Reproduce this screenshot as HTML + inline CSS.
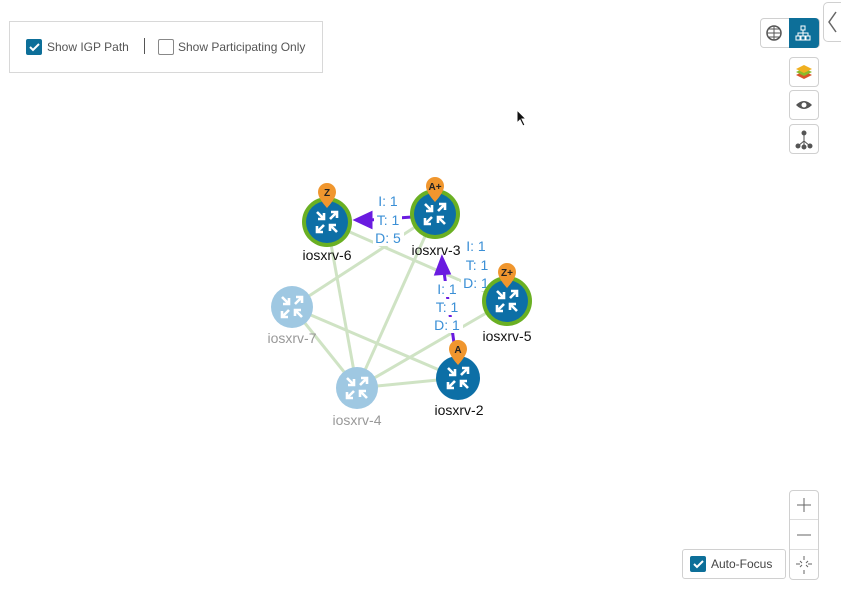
<!DOCTYPE html>
<html><head><meta charset="utf-8"><style>
body{margin:0;width:841px;height:598px;background:#fff;font-family:"Liberation Sans",sans-serif;overflow:hidden;position:relative}
.box{position:absolute;left:9px;top:21px;width:312px;height:50px;border:1px solid #d8d8d8;background:#fff}
.cb{position:absolute;width:14px;height:14px;border:1px solid #888;border-radius:2px;background:#fff}
.cb.on{background:#0d6f99;border-color:#0d6f99}
.lbl{position:absolute;font-size:12px;color:#555}
.btn{position:absolute;width:28px;height:28px;border:1px solid #d0d0d0;border-radius:4px;background:#fff}
</style></head><body>
<div class="box">
<div class="cb on" style="left:16px;top:17px"><svg width="14" height="14"><path d="M3 7l3 3 6-6" stroke="#fff" stroke-width="2" fill="none"/></svg></div>
<div class="lbl" style="left:37px;top:18px">Show IGP Path</div>
<div style="position:absolute;left:134px;top:16px;width:1px;height:16px;background:#555"></div>
<div class="cb" style="left:148px;top:17px"></div>
<div class="lbl" style="left:168px;top:18px">Show Participating Only</div>
</div>
<div style="position:absolute;left:760px;top:18px;width:58px;height:28px;border:1px solid #d0d0d0;border-radius:4px;background:#fff"></div>
<div style="position:absolute;left:789px;top:18px;width:30px;height:30px;background:#0d6f99;border-radius:0 4px 4px 0"></div>
<svg style="position:absolute;left:766px;top:25px" width="16" height="16"><circle cx="8" cy="8" r="7" fill="none" stroke="#555" stroke-width="1.5"/><path d="M1 8h14M8 1v14M3 4h10M3 12h10" stroke="#555"/></svg>
<svg style="position:absolute;left:795px;top:25px" width="16" height="16" fill="none" stroke="#fff"><rect x="6" y="1" width="4" height="4"/><rect x="1" y="11" width="4" height="4"/><rect x="6" y="11" width="4" height="4"/><rect x="11" y="11" width="4" height="4"/><path d="M8 5v3M3 11V8h10v3M8 8v3"/></svg>
<div style="position:absolute;left:823px;top:2px;width:24px;height:38px;border:1px solid #d0d0d0;border-radius:5px;background:#fff"></div>
<svg style="position:absolute;left:826px;top:10px" width="14" height="24"><path d="M10 2L3 12l7 10" stroke="#666" stroke-width="1.5" fill="none"/></svg>
<div class="btn" style="left:789px;top:57px"><svg width="28" height="28"><path d="M6 17l8 4 8-4-8-4z" fill="#d9532a"/><path d="M6 14l8 4 8-4-8-4z" fill="#8bbb2c"/><path d="M6 11l8 4 8-4-8-4z" fill="#f0b020"/></svg></div>
<div class="btn" style="left:789px;top:90px"><svg width="28" height="28"><path d="M6 14q8-8 16 0q-8 8-16 0z" fill="#555"/><circle cx="14" cy="14" r="2.5" fill="#fff"/></svg></div>
<div class="btn" style="left:789px;top:124px"><svg width="28" height="28" stroke="#555" fill="#555"><path d="M14 8v8M14 16l-6 5M14 16l6 5M14 16v6" fill="none"/><circle cx="14" cy="8" r="2"/><circle cx="8" cy="21" r="2"/><circle cx="20" cy="21" r="2"/><circle cx="14" cy="22" r="2"/></svg></div>
<div style="position:absolute;left:789px;top:490px;width:28px;height:88px;border:1px solid #d0d0d0;border-radius:4px;background:#fff"></div>
<div style="position:absolute;left:790px;top:519px;width:28px;height:1px;background:#ddd"></div>
<div style="position:absolute;left:790px;top:549px;width:28px;height:1px;background:#ddd"></div>
<svg style="position:absolute;left:790px;top:490px" width="28" height="88" stroke="#666" fill="none"><path d="M14 8v14M7 15h14M7 45h14"/><path d="M14 66v4M14 80v4M6 74h4M18 74h4M10 71l2 2M18 71l-2 2M10 77l2-2M18 77l-2-2"/></svg>
<div style="position:absolute;left:682px;top:549px;width:102px;height:28px;border:1px solid #d0d0d0;border-radius:3px;background:#fff"></div>
<div class="cb on" style="left:690px;top:556px"><svg width="14" height="14"><path d="M3 7l3 3 6-6" stroke="#fff" stroke-width="2" fill="none"/></svg></div>
<div class="lbl" style="left:711px;top:557px;color:#444">Auto-Focus</div>
<svg style="position:absolute;left:516px;top:109px" width="12" height="18"><path d="M1 1v13l3-3 3 6 2-1-3-6h4z" fill="#111" stroke="#fff"/></svg>
<svg style="position:absolute;left:0;top:0" width="841" height="598" font-family="Liberation Sans, sans-serif">
<g stroke="#cfe3c4" stroke-width="3">
<line x1="327" y1="222" x2="357" y2="388"/><line x1="327" y1="222" x2="507" y2="301"/>
<line x1="292" y1="307" x2="435" y2="214"/><line x1="292" y1="307" x2="458" y2="378"/>
<line x1="292" y1="307" x2="357" y2="388"/><line x1="357" y1="388" x2="435" y2="214"/>
<line x1="357" y1="388" x2="507" y2="301"/><line x1="357" y1="388" x2="458" y2="378"/>
</g>
<g stroke="#6a1be0" stroke-width="3" fill="#6a1be0">
<line x1="455" y1="350" x2="444" y2="272"/><path d="M442 258l-6 16 13-1z"/>
<line x1="412" y1="217" x2="370" y2="220"/><path d="M356 220l15-7 0 14z"/>
</g>
<g fill="#fff">
<rect x="376" y="193" width="24" height="16"/><rect x="374" y="212" width="28" height="16"/><rect x="373" y="230" width="31" height="16"/>
<rect x="464" y="238" width="24" height="16"/><rect x="464" y="257" width="27" height="16"/><rect x="461" y="275" width="31" height="16"/>
<rect x="435" y="281" width="24" height="16"/><rect x="434" y="299" width="27" height="16"/><rect x="431" y="317" width="32" height="16"/>
</g>
<g font-size="14" fill="#3a8fd6" text-anchor="middle">
<text x="388" y="206">I: 1</text><text x="388" y="225">T: 1</text><text x="388" y="243">D: 5</text>
<text x="476" y="251">I: 1</text><text x="477" y="270">T: 1</text><text x="476" y="288">D: 1</text>
<text x="447" y="294">I: 1</text><text x="447" y="312">T: 1</text><text x="447" y="330">D: 1</text>
</g>
<g>
<circle cx="327" cy="222" r="25" fill="#6ab023"/><circle cx="327" cy="222" r="21" fill="#0d6fa6"/>
<circle cx="435" cy="214" r="25" fill="#6ab023"/><circle cx="435" cy="214" r="21" fill="#0d6fa6"/>
<circle cx="507" cy="301" r="25" fill="#6ab023"/><circle cx="507" cy="301" r="21" fill="#0d6fa6"/>
<circle cx="458" cy="378" r="22" fill="#0d6fa6"/>
<circle cx="292" cy="307" r="21" fill="#9fc8e2"/>
<circle cx="357" cy="388" r="21" fill="#9fc8e2"/>
</g>
<g stroke="#fff" stroke-width="2.6" fill="none">
<g transform="translate(327,222)"><path d="M-10-10l7 7M-3-9v6h-6M10 10l-7-7M3 9v-6h6M3-3l7-7M4-10h6v6M-3 3l-7 7M-10 4v6h6"/></g>
<g transform="translate(435,214)"><path d="M-10-10l7 7M-3-9v6h-6M10 10l-7-7M3 9v-6h6M3-3l7-7M4-10h6v6M-3 3l-7 7M-10 4v6h6"/></g>
<g transform="translate(507,301)"><path d="M-10-10l7 7M-3-9v6h-6M10 10l-7-7M3 9v-6h6M3-3l7-7M4-10h6v6M-3 3l-7 7M-10 4v6h6"/></g>
<g transform="translate(458,378)"><path d="M-10-10l7 7M-3-9v6h-6M10 10l-7-7M3 9v-6h6M3-3l7-7M4-10h6v6M-3 3l-7 7M-10 4v6h6"/></g>
<g transform="translate(292,307)"><path d="M-10-10l7 7M-3-9v6h-6M10 10l-7-7M3 9v-6h6M3-3l7-7M4-10h6v6M-3 3l-7 7M-10 4v6h6"/></g>
<g transform="translate(357,388)"><path d="M-10-10l7 7M-3-9v6h-6M10 10l-7-7M3 9v-6h6M3-3l7-7M4-10h6v6M-3 3l-7 7M-10 4v6h6"/></g>
</g>
<g fill="#f0962e">
<path d="M318 192a9 9 0 1 1 18 0q0 6-9 16q-9-10-9-16z"/>
<path d="M426 186a9 9 0 1 1 18 0q0 6-9 16q-9-10-9-16z"/>
<path d="M498 272a9 9 0 1 1 18 0q0 6-9 16q-9-10-9-16z"/>
<path d="M449 349a9 9 0 1 1 18 0q0 6-9 16q-9-10-9-16z"/>
</g>
<g font-size="10" font-weight="bold" fill="#222" text-anchor="middle">
<text x="327" y="196">Z</text><text x="435" y="190">A+</text><text x="507" y="276">Z+</text><text x="458" y="353">A</text>
</g>
<g font-size="14" text-anchor="middle">
<text x="327" y="260" fill="#111">iosxrv-6</text><text x="436" y="255" fill="#111">iosxrv-3</text>
<text x="507" y="341" fill="#111">iosxrv-5</text><text x="459" y="415" fill="#111">iosxrv-2</text>
<text x="292" y="343" fill="#999">iosxrv-7</text><text x="357" y="425" fill="#999">iosxrv-4</text>
</g>
</svg>
</body></html>
